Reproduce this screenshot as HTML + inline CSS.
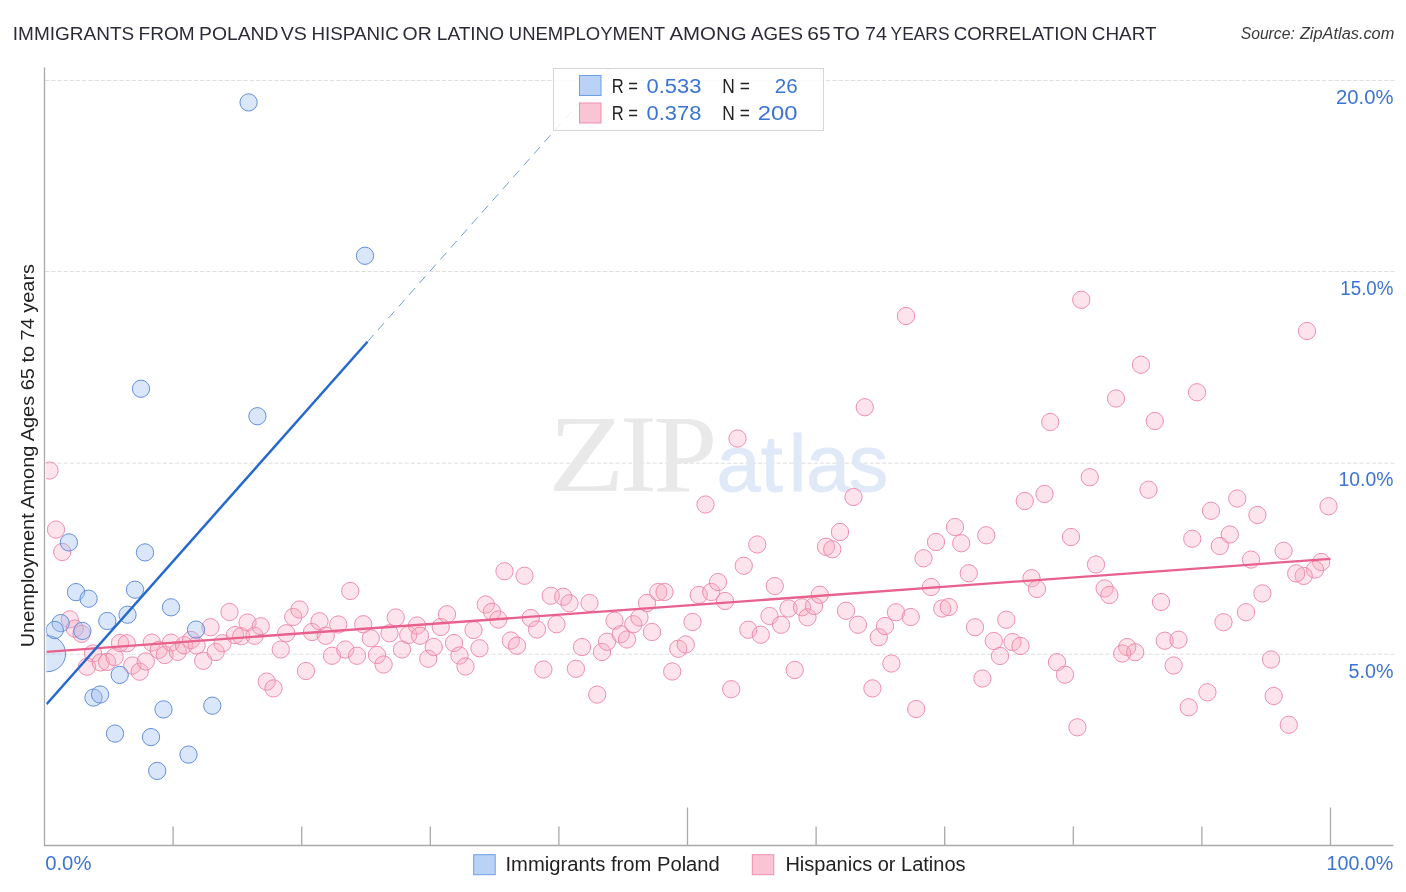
<!DOCTYPE html>
<html lang="en"><head><meta charset="utf-8"><title>Immigrants from Poland vs Hispanic or Latino Unemployment Among Ages 65 to 74 years Correlation Chart</title>
<style>
html,body{margin:0;padding:0;background:#fff;}
body{width:1406px;height:892px;overflow:hidden;font-family:"Liberation Sans",sans-serif;}
svg{display:block;}
text{font-family:"Liberation Sans",sans-serif;}
.wm1{font-family:"Liberation Serif",serif;}
</style></head><body>
<svg width="1406" height="892" viewBox="0 0 1406 892">
<defs><clipPath id="plot"><rect x="46.3" y="60" width="1348" height="785"/></clipPath></defs>
<rect width="1406" height="892" fill="#fff"/>
<g font-size="19" fill="#2b2b36"><text x="12.8" y="39.9" textLength="121.4" lengthAdjust="spacingAndGlyphs">IMMIGRANTS</text><text x="138.5" y="39.9" textLength="56.1" lengthAdjust="spacingAndGlyphs">FROM</text><text x="199.1" y="39.9" textLength="79.4" lengthAdjust="spacingAndGlyphs">POLAND</text><text x="280.7" y="39.9" textLength="26.2" lengthAdjust="spacingAndGlyphs">VS</text><text x="311.5" y="39.9" textLength="87.3" lengthAdjust="spacingAndGlyphs">HISPANIC</text><text x="402.6" y="39.9" textLength="29.1" lengthAdjust="spacingAndGlyphs">OR</text><text x="436.8" y="39.9" textLength="67.4" lengthAdjust="spacingAndGlyphs">LATINO</text><text x="508.8" y="39.9" textLength="156.2" lengthAdjust="spacingAndGlyphs">UNEMPLOYMENT</text><text x="669.5" y="39.9" textLength="77.1" lengthAdjust="spacingAndGlyphs">AMONG</text><text x="750.9" y="39.9" textLength="52.1" lengthAdjust="spacingAndGlyphs">AGES</text><text x="807.3" y="39.9" textLength="23.3" lengthAdjust="spacingAndGlyphs">65</text><text x="832.9" y="39.9" textLength="27.0" lengthAdjust="spacingAndGlyphs">TO</text><text x="865.0" y="39.9" textLength="21.9" lengthAdjust="spacingAndGlyphs">74</text><text x="890.6" y="39.9" textLength="58.9" lengthAdjust="spacingAndGlyphs">YEARS</text><text x="953.8" y="39.9" textLength="133.7" lengthAdjust="spacingAndGlyphs">CORRELATION</text><text x="1091.8" y="39.9" textLength="64.7" lengthAdjust="spacingAndGlyphs">CHART</text></g>
<g font-size="16" font-style="italic" fill="#3a3a3a"><text x="1240.7" y="39.3" textLength="54.1" lengthAdjust="spacingAndGlyphs">Source:</text><text x="1299.9" y="39.3" textLength="94.4" lengthAdjust="spacingAndGlyphs">ZipAtlas.com</text></g>
<line x1="45" y1="80.5" x2="1394.5" y2="80.5" stroke="#dedede" stroke-width="1" stroke-dasharray="4.2 2"/>
<line x1="45" y1="271.5" x2="1394.5" y2="271.5" stroke="#dedede" stroke-width="1" stroke-dasharray="4.2 2"/>
<line x1="45" y1="463.2" x2="1394.5" y2="463.2" stroke="#dedede" stroke-width="1" stroke-dasharray="4.2 2"/>
<line x1="45" y1="654.2" x2="1394.5" y2="654.2" stroke="#dedede" stroke-width="1" stroke-dasharray="4.2 2"/>
<g font-size="110" fill="#e9e9e9"><text class="wm1" x="548.3" y="491" textLength="76.4" lengthAdjust="spacingAndGlyphs">Z</text><text class="wm1" x="620" y="491">I</text><text class="wm1" x="653.3" y="491" textLength="64.2" lengthAdjust="spacingAndGlyphs">P</text></g>
<text x="716.5 760.8 788.8 806 848.8" y="491" font-size="79" fill="#dfe9f8" stroke="#dfe9f8" stroke-width="0.9">atlas</text>
<line x1="44.5" y1="67.5" x2="44.5" y2="846" stroke="#a9a9a9" stroke-width="1.3"/>
<line x1="44" y1="845.5" x2="1393.5" y2="845.5" stroke="#a9a9a9" stroke-width="1.3"/>
<line x1="173.1" y1="826.5" x2="173.1" y2="845.5" stroke="#a9a9a9" stroke-width="1.3"/>
<line x1="301.7" y1="826.5" x2="301.7" y2="845.5" stroke="#a9a9a9" stroke-width="1.3"/>
<line x1="430.3" y1="826.5" x2="430.3" y2="845.5" stroke="#a9a9a9" stroke-width="1.3"/>
<line x1="558.9" y1="826.5" x2="558.9" y2="845.5" stroke="#a9a9a9" stroke-width="1.3"/>
<line x1="687.5" y1="807.5" x2="687.5" y2="845.5" stroke="#a9a9a9" stroke-width="1.3"/>
<line x1="816.1" y1="826.5" x2="816.1" y2="845.5" stroke="#a9a9a9" stroke-width="1.3"/>
<line x1="944.7" y1="826.5" x2="944.7" y2="845.5" stroke="#a9a9a9" stroke-width="1.3"/>
<line x1="1073.3" y1="826.5" x2="1073.3" y2="845.5" stroke="#a9a9a9" stroke-width="1.3"/>
<line x1="1201.9" y1="826.5" x2="1201.9" y2="845.5" stroke="#a9a9a9" stroke-width="1.3"/>
<line x1="1330.5" y1="807.5" x2="1330.5" y2="845.5" stroke="#a9a9a9" stroke-width="1.3"/>
<g clip-path="url(#plot)">
<g fill="#f8a9c2" fill-opacity="0.32" stroke="#ed84a6" stroke-opacity="0.9" stroke-width="1">
<circle cx="49.5" cy="470.5" r="8.65"/><circle cx="906" cy="316" r="8.65"/><circle cx="864.75" cy="407.25" r="8.65"/><circle cx="737.5" cy="438.5" r="8.65"/><circle cx="1050.25" cy="422" r="8.65"/><circle cx="853.5" cy="497" r="8.65"/><circle cx="1024.75" cy="501" r="8.65"/><circle cx="1044.5" cy="494" r="8.65"/><circle cx="705.5" cy="504.5" r="8.65"/><circle cx="1081.25" cy="299.8" r="8.65"/><circle cx="1307" cy="331" r="8.65"/><circle cx="1141" cy="364.75" r="8.65"/><circle cx="1116" cy="398.5" r="8.65"/><circle cx="1197" cy="392.25" r="8.65"/><circle cx="1154.75" cy="421" r="8.65"/><circle cx="1089.75" cy="477.25" r="8.65"/><circle cx="1148.5" cy="489.75" r="8.65"/><circle cx="1237.25" cy="498.5" r="8.65"/><circle cx="1328.5" cy="506.25" r="8.65"/><circle cx="56" cy="529.6" r="8.65"/><circle cx="62.2" cy="552" r="8.65"/><circle cx="69.75" cy="619.4" r="8.65"/><circle cx="74.8" cy="628.6" r="8.65"/><circle cx="81.5" cy="633.8" r="8.65"/><circle cx="93" cy="653.4" r="8.65"/><circle cx="87" cy="666.7" r="8.65"/><circle cx="100.7" cy="662.4" r="8.65"/><circle cx="107.1" cy="661.9" r="8.65"/><circle cx="114.6" cy="657" r="8.65"/><circle cx="120" cy="643" r="8.65"/><circle cx="126.8" cy="643.3" r="8.65"/><circle cx="132.3" cy="665.5" r="8.65"/><circle cx="139.7" cy="671.7" r="8.65"/><circle cx="145.8" cy="661.4" r="8.65"/><circle cx="151.8" cy="642.6" r="8.65"/><circle cx="158.7" cy="649.9" r="8.65"/><circle cx="164.7" cy="655" r="8.65"/><circle cx="171" cy="642.6" r="8.65"/><circle cx="177.8" cy="651.8" r="8.65"/><circle cx="184" cy="645.2" r="8.65"/><circle cx="191" cy="640" r="8.65"/><circle cx="196.6" cy="645.4" r="8.65"/><circle cx="210.5" cy="627.2" r="8.65"/><circle cx="203.2" cy="660.8" r="8.65"/><circle cx="215.7" cy="652" r="8.65"/><circle cx="222.5" cy="643.25" r="8.65"/><circle cx="229.5" cy="612" r="8.65"/><circle cx="235" cy="635" r="8.65"/><circle cx="241.25" cy="636.25" r="8.65"/><circle cx="247.5" cy="622.5" r="8.65"/><circle cx="254.5" cy="635.75" r="8.65"/><circle cx="260.75" cy="626.25" r="8.65"/><circle cx="266.7" cy="681.6" r="8.65"/><circle cx="273.5" cy="688.4" r="8.65"/><circle cx="280.75" cy="649.5" r="8.65"/><circle cx="286.25" cy="633.25" r="8.65"/><circle cx="293.25" cy="617" r="8.65"/><circle cx="299.5" cy="609.5" r="8.65"/><circle cx="306" cy="671" r="8.65"/><circle cx="312" cy="632" r="8.65"/><circle cx="319.5" cy="621.25" r="8.65"/><circle cx="325.75" cy="635.75" r="8.65"/><circle cx="332" cy="655.75" r="8.65"/><circle cx="338.25" cy="624.5" r="8.65"/><circle cx="345.25" cy="649.5" r="8.65"/><circle cx="350.25" cy="591" r="8.65"/><circle cx="363.25" cy="624.25" r="8.65"/><circle cx="357" cy="655.75" r="8.65"/><circle cx="370.75" cy="638.25" r="8.65"/><circle cx="377" cy="655" r="8.65"/><circle cx="383.6" cy="664.5" r="8.65"/><circle cx="389.5" cy="633.25" r="8.65"/><circle cx="395.75" cy="617.5" r="8.65"/><circle cx="402" cy="649.5" r="8.65"/><circle cx="408.25" cy="635" r="8.65"/><circle cx="417" cy="625.5" r="8.65"/><circle cx="420" cy="635.75" r="8.65"/><circle cx="428.25" cy="658.75" r="8.65"/><circle cx="433.75" cy="647" r="8.65"/><circle cx="440.75" cy="627" r="8.65"/><circle cx="447" cy="614.25" r="8.65"/><circle cx="454" cy="643" r="8.65"/><circle cx="459.5" cy="655.5" r="8.65"/><circle cx="465.5" cy="666.5" r="8.65"/><circle cx="473.5" cy="630" r="8.65"/><circle cx="479.5" cy="648.25" r="8.65"/><circle cx="485.75" cy="604.5" r="8.65"/><circle cx="492" cy="611.75" r="8.65"/><circle cx="498.25" cy="619.5" r="8.65"/><circle cx="504.5" cy="571.25" r="8.65"/><circle cx="510.75" cy="640.5" r="8.65"/><circle cx="517" cy="645.75" r="8.65"/><circle cx="524.5" cy="575.75" r="8.65"/><circle cx="530.75" cy="618" r="8.65"/><circle cx="537" cy="629.5" r="8.65"/><circle cx="543.4" cy="669.5" r="8.65"/><circle cx="550.75" cy="595.75" r="8.65"/><circle cx="556.5" cy="624.25" r="8.65"/><circle cx="563.25" cy="596.75" r="8.65"/><circle cx="569.5" cy="603.25" r="8.65"/><circle cx="575.9" cy="668.8" r="8.65"/><circle cx="582" cy="647" r="8.65"/><circle cx="589.5" cy="603" r="8.65"/><circle cx="597.2" cy="694.6" r="8.65"/><circle cx="602" cy="652" r="8.65"/><circle cx="607" cy="641.75" r="8.65"/><circle cx="614.5" cy="620.75" r="8.65"/><circle cx="620.75" cy="634.25" r="8.65"/><circle cx="627" cy="639.5" r="8.65"/><circle cx="633.25" cy="624.25" r="8.65"/><circle cx="639.5" cy="617.5" r="8.65"/><circle cx="647" cy="603" r="8.65"/><circle cx="652" cy="632" r="8.65"/><circle cx="658.25" cy="592" r="8.65"/><circle cx="664.5" cy="592" r="8.65"/><circle cx="672.2" cy="671.5" r="8.65"/><circle cx="678.25" cy="648.75" r="8.65"/><circle cx="685.75" cy="644.5" r="8.65"/><circle cx="692.5" cy="622" r="8.65"/><circle cx="698.75" cy="595" r="8.65"/><circle cx="711.25" cy="592" r="8.65"/><circle cx="718" cy="582" r="8.65"/><circle cx="725" cy="601" r="8.65"/><circle cx="743.75" cy="565.75" r="8.65"/><circle cx="757.25" cy="544.5" r="8.65"/><circle cx="748.25" cy="629.75" r="8.65"/><circle cx="760.75" cy="634.75" r="8.65"/><circle cx="769.5" cy="616" r="8.65"/><circle cx="774.75" cy="586" r="8.65"/><circle cx="781" cy="624.75" r="8.65"/><circle cx="788.5" cy="608.5" r="8.65"/><circle cx="794.7" cy="670" r="8.65"/><circle cx="802" cy="607.25" r="8.65"/><circle cx="807.5" cy="617.25" r="8.65"/><circle cx="814" cy="606" r="8.65"/><circle cx="819.75" cy="594.75" r="8.65"/><circle cx="826" cy="546.75" r="8.65"/><circle cx="832.25" cy="549.25" r="8.65"/><circle cx="840" cy="532" r="8.65"/><circle cx="846" cy="610.75" r="8.65"/><circle cx="858" cy="624.75" r="8.65"/><circle cx="872.4" cy="688.4" r="8.65"/><circle cx="878.75" cy="637.25" r="8.65"/><circle cx="885" cy="626" r="8.65"/><circle cx="891.4" cy="663.5" r="8.65"/><circle cx="896" cy="612.25" r="8.65"/><circle cx="910.75" cy="617" r="8.65"/><circle cx="916.2" cy="709" r="8.65"/><circle cx="923.5" cy="558.25" r="8.65"/><circle cx="931" cy="587" r="8.65"/><circle cx="936" cy="542" r="8.65"/><circle cx="942.25" cy="608.5" r="8.65"/><circle cx="948.75" cy="607" r="8.65"/><circle cx="955" cy="527" r="8.65"/><circle cx="961.25" cy="543.25" r="8.65"/><circle cx="968.75" cy="573.25" r="8.65"/><circle cx="975" cy="627.25" r="8.65"/><circle cx="982.4" cy="678.5" r="8.65"/><circle cx="986.25" cy="535.25" r="8.65"/><circle cx="993.75" cy="641" r="8.65"/><circle cx="1000" cy="656" r="8.65"/><circle cx="1006.25" cy="619.75" r="8.65"/><circle cx="1012.5" cy="642" r="8.65"/><circle cx="1020.5" cy="646" r="8.65"/><circle cx="1031.5" cy="578.2" r="8.65"/><circle cx="1037" cy="589" r="8.65"/><circle cx="731.2" cy="689.2" r="8.65"/><circle cx="1211" cy="510.75" r="8.65"/><circle cx="1257.4" cy="515" r="8.65"/><circle cx="1071" cy="537" r="8.65"/><circle cx="1192.25" cy="538.75" r="8.65"/><circle cx="1229.8" cy="534.5" r="8.65"/><circle cx="1219.8" cy="546" r="8.65"/><circle cx="1096" cy="564.5" r="8.65"/><circle cx="1104.6" cy="588.4" r="8.65"/><circle cx="1109.4" cy="595" r="8.65"/><circle cx="1161" cy="602" r="8.65"/><circle cx="1251" cy="559.6" r="8.65"/><circle cx="1283.6" cy="550.8" r="8.65"/><circle cx="1321.2" cy="562" r="8.65"/><circle cx="1315" cy="569.6" r="8.65"/><circle cx="1303.7" cy="575.9" r="8.65"/><circle cx="1296.2" cy="573.4" r="8.65"/><circle cx="1262.4" cy="593.4" r="8.65"/><circle cx="1246" cy="612.2" r="8.65"/><circle cx="1223.5" cy="622.2" r="8.65"/><circle cx="1164.7" cy="640.7" r="8.65"/><circle cx="1178.5" cy="639.7" r="8.65"/><circle cx="1127.2" cy="647" r="8.65"/><circle cx="1122.2" cy="653.5" r="8.65"/><circle cx="1135.2" cy="652.2" r="8.65"/><circle cx="1057" cy="662.2" r="8.65"/><circle cx="1065" cy="674.7" r="8.65"/><circle cx="1173.6" cy="665.5" r="8.65"/><circle cx="1271" cy="659.5" r="8.65"/><circle cx="1207.4" cy="692.3" r="8.65"/><circle cx="1188.7" cy="707.3" r="8.65"/><circle cx="1273.7" cy="696" r="8.65"/><circle cx="1077.4" cy="727.3" r="8.65"/><circle cx="1288.8" cy="724.8" r="8.65"/>
</g>
<g fill="#9dbdf0" fill-opacity="0.38" stroke="#5585d8" stroke-opacity="0.9" stroke-width="1">
<circle cx="47.6" cy="653.7" r="18"/><circle cx="248.6" cy="102.4" r="8.65"/><circle cx="365" cy="255.75" r="8.65"/><circle cx="141" cy="388.75" r="8.65"/><circle cx="257.4" cy="416.2" r="8.65"/><circle cx="68.9" cy="542.4" r="8.65"/><circle cx="145" cy="552.4" r="8.65"/><circle cx="76" cy="592.1" r="8.65"/><circle cx="88.6" cy="598.7" r="8.65"/><circle cx="135" cy="589.7" r="8.65"/><circle cx="171" cy="607.3" r="8.65"/><circle cx="127.5" cy="614.7" r="8.65"/><circle cx="107.3" cy="621" r="8.65"/><circle cx="60.7" cy="623.1" r="8.65"/><circle cx="54.8" cy="630" r="8.65"/><circle cx="82.4" cy="630.9" r="8.65"/><circle cx="196" cy="629.6" r="8.65"/><circle cx="119.7" cy="674.9" r="8.65"/><circle cx="93.5" cy="697.6" r="8.65"/><circle cx="100.1" cy="694.5" r="8.65"/><circle cx="163.5" cy="709.4" r="8.65"/><circle cx="212.3" cy="705.7" r="8.65"/><circle cx="115" cy="733.6" r="8.65"/><circle cx="151" cy="737.1" r="8.65"/><circle cx="188.5" cy="754.6" r="8.65"/><circle cx="157.2" cy="770.9" r="8.65"/>
</g>
<line x1="46.5" y1="651.8" x2="1330.5" y2="558.8" stroke="#e8618c" stroke-width="2.3" stroke-linecap="butt"/>
<line x1="367.5" y1="341.75" x2="610" y2="68" stroke="#6f9ae3" stroke-width="1" stroke-dasharray="9 6.7"/>
<line x1="46.5" y1="704.2" x2="367.5" y2="341.75" stroke="#2468d0" stroke-width="2.5"/>
</g>
<rect x="553.5" y="68.5" width="270" height="62" fill="#fff" fill-opacity="0.85" stroke="#d6d6d6" stroke-width="1"/>
<rect x="579.5" y="75.5" width="21.5" height="20" fill="#b9d2f5" stroke="#6d9fe8" stroke-width="1"/>
<rect x="579.5" y="103" width="21.5" height="20" fill="#f9c4d4" stroke="#ef8fb0" stroke-width="1"/>
<text x="611.7" y="93.3" font-size="19.6" fill="#222" textLength="26.2" lengthAdjust="spacingAndGlyphs">R =</text><text x="646.6" y="93.3" font-size="19.6" fill="#3b74d4" textLength="54.8" lengthAdjust="spacingAndGlyphs">0.533</text><text x="722.3" y="93.3" font-size="19.6" fill="#222" textLength="27.5" lengthAdjust="spacingAndGlyphs">N =</text><text x="774.7" y="93.3" font-size="19.6" fill="#3b74d4" textLength="22.9" lengthAdjust="spacingAndGlyphs">26</text>
<text x="611.7" y="120.3" font-size="19.6" fill="#222" textLength="26.2" lengthAdjust="spacingAndGlyphs">R =</text><text x="646.6" y="120.3" font-size="19.6" fill="#3b74d4" textLength="54.8" lengthAdjust="spacingAndGlyphs">0.378</text><text x="722.3" y="120.3" font-size="19.6" fill="#222" textLength="27.5" lengthAdjust="spacingAndGlyphs">N =</text><text x="757.8" y="120.3" font-size="19.6" fill="#3b74d4" textLength="39.8" lengthAdjust="spacingAndGlyphs">200</text>
<text x="1336.0" y="103.8" font-size="19.6" fill="#3b74d4" textLength="57.4" lengthAdjust="spacingAndGlyphs">20.0%</text>
<text x="1340.3" y="295" font-size="19.6" fill="#3b74d4" textLength="53.1" lengthAdjust="spacingAndGlyphs">15.0%</text>
<text x="1338.6" y="486.0" font-size="19.6" fill="#3b74d4" textLength="54.8" lengthAdjust="spacingAndGlyphs">10.0%</text>
<text x="1348.5" y="677.6" font-size="19.6" fill="#3b74d4" textLength="44.9" lengthAdjust="spacingAndGlyphs">5.0%</text>
<text x="45.2" y="870" font-size="19.6" fill="#3b74d4" textLength="46.3" lengthAdjust="spacingAndGlyphs">0.0%</text>
<text x="1326.5" y="870" font-size="19.6" fill="#3b74d4" textLength="66.8" lengthAdjust="spacingAndGlyphs">100.0%</text>
<text transform="translate(33.6 647.3) rotate(-90)" font-size="18.5" fill="#222" textLength="383.3" lengthAdjust="spacingAndGlyphs">Unemployment Among Ages 65 to 74 years</text>
<rect x="473.7" y="854.7" width="21.5" height="20" fill="#b9d2f5" stroke="#6d9fe8" stroke-width="1"/>
<text x="505.5" y="871.2" font-size="19.6" fill="#222" textLength="214.3" lengthAdjust="spacingAndGlyphs">Immigrants from Poland</text>
<rect x="752.3" y="854.7" width="21.5" height="20" fill="#f9c4d4" stroke="#ef8fb0" stroke-width="1"/>
<text x="785.4" y="871.2" font-size="19.6" fill="#222" textLength="180.2" lengthAdjust="spacingAndGlyphs">Hispanics or Latinos</text>
</svg>
</body></html>
